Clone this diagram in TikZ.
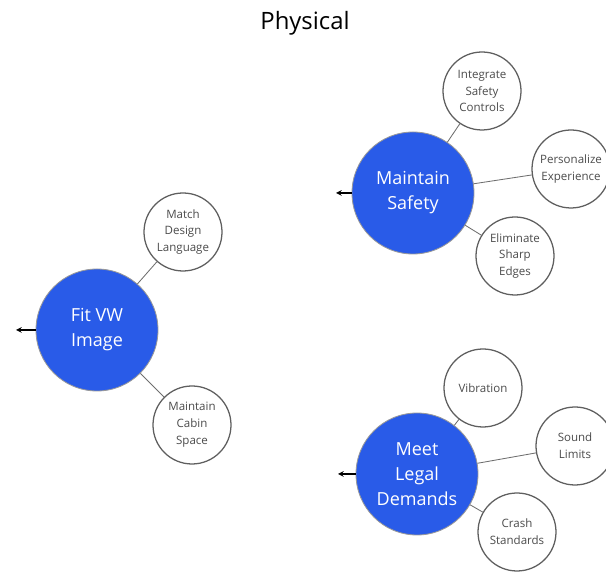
\documentclass[tikz,border=0pt]{standalone}
\usepackage{fontspec}
\setmainfont{Open Sans}
\usepackage{tikz}
\usetikzlibrary{arrows}
\usetikzlibrary{positioning}

\definecolor{goalblue}{RGB}{41,91,232}
\definecolor{rimgray}{RGB}{95,95,95}
\definecolor{linkgray}{RGB}{110,110,110}

\begin{document}
\begin{tikzpicture}[
  goal/.style={circle,minimum size=3.05cm,inner sep=0pt,fill=goalblue,draw=gray!80,line width=0.6pt,text=white,align=center,font=\fontsize{12.8}{17.8}\selectfont},
  sub/.style={circle,minimum size=1.95cm,inner sep=0pt,fill=white,draw=rimgray,line width=0.9pt,text=black!70,align=center,font=\fontsize{8.2}{12}\selectfont},
  link/.style={draw=linkgray,line width=0.6pt},
  outarrow/.style={-stealth,line width=0.8pt,black}
]
\useasboundingbox (0,0) rectangle (15.15,14.35);
\node at (7.625,13.6)[anchor=base,font=\fontsize{17}{20}\selectfont](title){Physical};

% maintain safety
\node at (10.325,9.525)[goal](safety){Maintain\\Safety};
\node at (12.05,12.075)[sub](integrate){Integrate\\Safety\\Controls};
\node at (14.275,10.125)[sub](personal){Personalize\\Experience};
\node at (12.875,7.95)[sub](edges){Eliminate\\Sharp\\Edges};
\coordinate (safetyout) at (8.4,9.525);

% fit vw image
\node at (2.425,6.1)[goal](image){Fit VW\\Image};
\node at (4.575,8.55)[sub](design){Match\\Design\\Language};
\node at (4.8,3.725)[sub](cabin){Maintain\\Cabin\\Space};
\coordinate (imageout) at (0.4,6.1);

% meet legal demands
\node at (10.425,2.5)[goal](legal){Meet\\Legal\\Demands};
\node at (12.075,4.65)[sub](vibration){Vibration};
\node at (14.375,3.2)[sub](sound){Sound\\Limits};
\node at (12.925,1.05)[sub](crash){Crash\\Standards};
\coordinate (legalout) at (8.45,2.5);

\draw[link] (safety) -- (integrate);
\draw[link] (safety) -- (personal);
\draw[link] (safety) -- (edges);
\draw[link] (image) -- (design);
\draw[link] (image) -- (cabin);
\draw[link] (legal) -- (vibration);
\draw[link] (legal) -- (sound);
\draw[link] (legal) -- (crash);

\draw[outarrow] (safety.west) -- (safetyout);
\draw[outarrow] (image.west) -- (imageout);
\draw[outarrow] (legal.west) -- (legalout);
\end{tikzpicture}
\end{document}
